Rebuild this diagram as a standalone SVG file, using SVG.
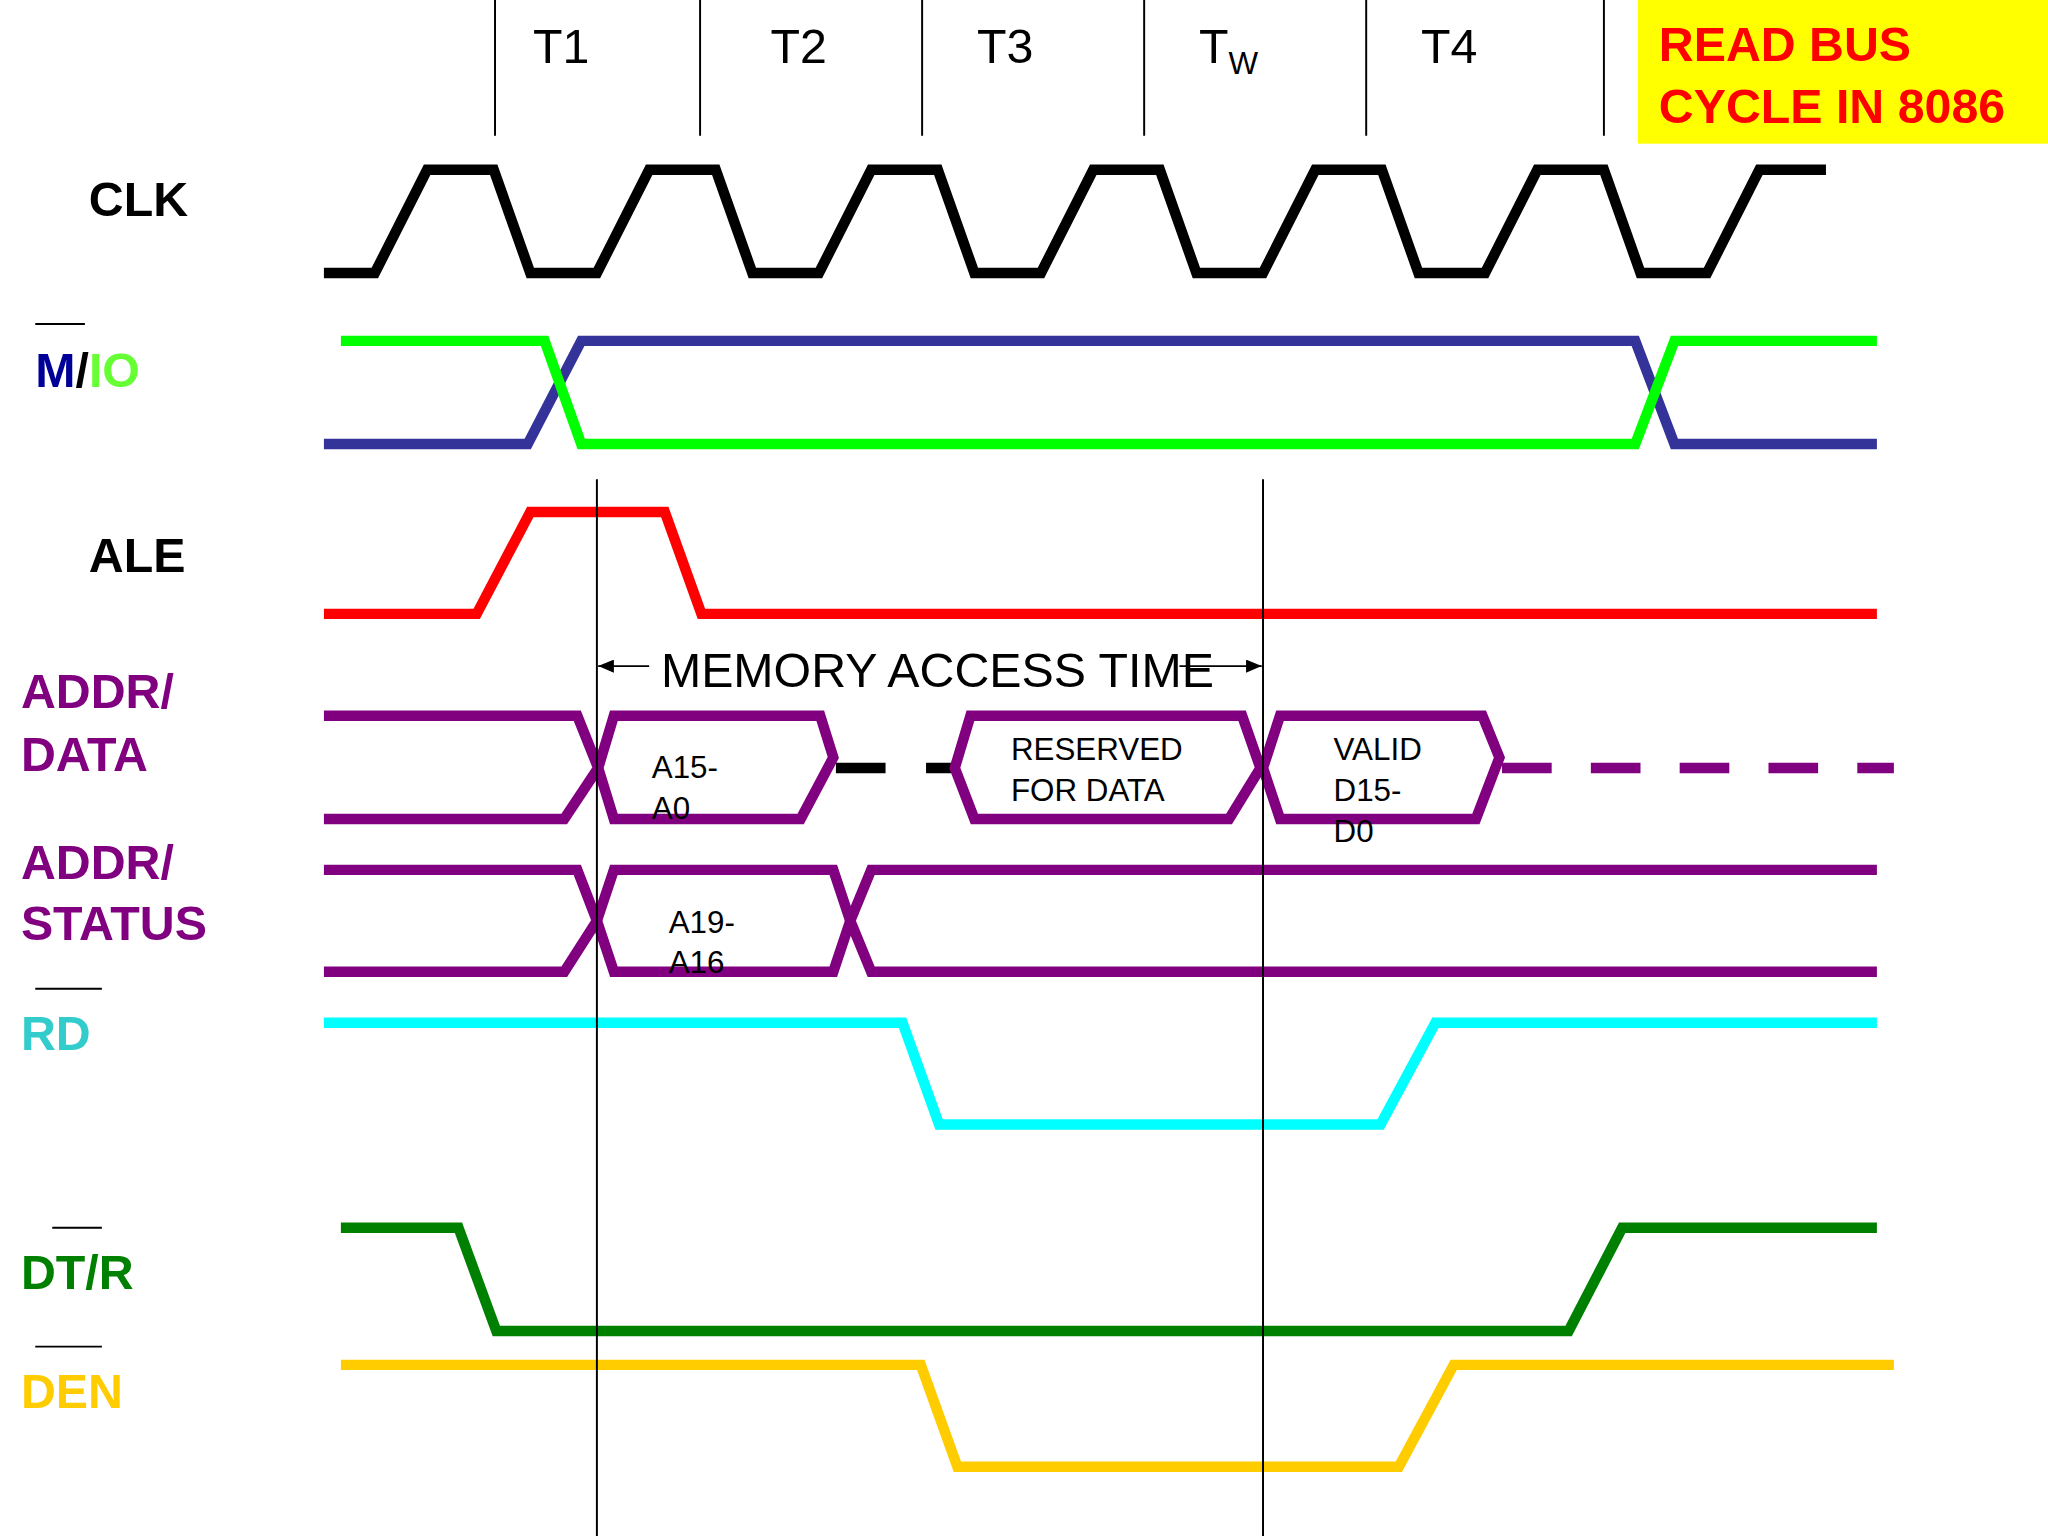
<svg xmlns="http://www.w3.org/2000/svg" width="2048" height="1536" viewBox="0 0 2048 1536">
<style>
.s{fill:none;stroke-width:8;stroke-linejoin:miter}
.t{fill:none;stroke:#000;stroke-width:1.5}
.lab{font-family:"Liberation Sans",Arial,sans-serif;font-weight:bold;font-size:37px}
.tx{font-family:"Liberation Sans",Arial,sans-serif;font-size:24px;fill:#000}
.hd{font-family:"Liberation Sans",Arial,sans-serif;font-size:37px;fill:#000}
</style>
<defs>
<marker id="ah" markerWidth="12" markerHeight="10" refX="12" refY="5" orient="auto" markerUnits="userSpaceOnUse"><path d="M0,0 L12,5 L0,10 Z" fill="#000"/></marker>
</defs>
<rect width="2048" height="1536" fill="#fff"/>
<g transform="scale(1.30612)">
<g id="header">
<path class="t" d="M379,0V104M536,0V104M706,0V104M876,0V104M1046,0V104M1228,0V104"/>
<text class="hd" x="408" y="48">T1</text>
<text class="hd" x="590" y="48">T2</text>
<text class="hd" x="748" y="48">T3</text>
<text class="hd" x="918" y="48">T<tspan font-size="24" dy="9">W</tspan></text>
<text class="hd" x="1088" y="48">T4</text>
<rect x="1254" y="0" width="314" height="110" fill="#ffff00"/>
<text class="lab" x="1270" y="47" fill="#ff0000">READ BUS</text>
<text class="lab" x="1270" y="94" fill="#ff0000">CYCLE IN 8086</text>
</g>
<g id="labels">
<text class="lab" x="68" y="165" fill="#000">CLK</text>
<line x1="27" y1="248" x2="65" y2="248" stroke="#000" stroke-width="1.5"/>
<text class="lab" x="27" y="296"><tspan fill="#000099">M</tspan><tspan fill="#000">/</tspan><tspan fill="#66ff33">IO</tspan></text>
<text class="lab" x="68" y="438" fill="#000">ALE</text>
<text class="lab" x="16" y="542" fill="#800080">ADDR/</text>
<text class="lab" x="16" y="590" fill="#800080">DATA</text>
<text class="lab" x="16" y="673" fill="#800080">ADDR/</text>
<text class="lab" x="16" y="720" fill="#800080">STATUS</text>
<line x1="27" y1="757" x2="78" y2="757" stroke="#000" stroke-width="1.5"/>
<text class="lab" x="16" y="804" fill="#33cccc">RD</text>
<line x1="40" y1="940" x2="78" y2="940" stroke="#000" stroke-width="1.5"/>
<text class="lab" x="16" y="987" fill="#008000">DT/R</text>
<line x1="27" y1="1031" x2="78" y2="1031" stroke="#000" stroke-width="1.5"/>
<text class="lab" x="16" y="1078" fill="#ffcc00">DEN</text>
</g>
<g id="signals">
<path class="s" stroke="#000" d="M248,209 L287,209 L327,130 L378,130 L406,209 L457,209 L497,130 L548,130 L576,209 L627,209 L667,130 L718,130 L746,209 L797,209 L837,130 L888,130 L916,209 L967,209 L1007,130 L1058,130 L1086,209 L1137,209 L1177,130 L1228,130 L1256,209 L1307,209 L1347,130 L1398,130"/>
<path class="s" stroke="#333399" d="M248,340 L404,340 L445,261 L1252,261 L1282,340 L1437,340"/>
<path class="s" stroke="#00ff00" d="M261,261 L417,261 L445,340 L1252,340 L1282,261 L1437,261"/>
<path class="s" stroke="#ff0000" d="M248,470 L365,470 L406,392 L509,392 L537,470 L1437,470"/>
<path class="s" stroke="#800080" d="M248,548 L442,548 L458,588 L470,627 L613,627 L638,580 L628,548 L470,548 L458,588 L432,627 L248,627"/>
<path class="s" stroke="#000" d="M640,588H678M709,588H729"/>
<path class="s" stroke="#800080" d="M743,548 L951,548 L965,588 L941,627 L746,627 L731,588 Z"/>
<path class="s" stroke="#800080" d="M980,548 L1135,548 L1148,580 L1130,627 L980,627 L967,588 Z"/>
<path class="s" stroke="#800080" stroke-dasharray="38,30" d="M1150,588H1450"/>
<path class="s" stroke="#800080" d="M248,666 L442,666 L457,705 L470,744 L638,744 L651,705 L667,666 L1437,666"/>
<path class="s" stroke="#800080" d="M248,744 L432,744 L457,705 L470,666 L638,666 L651,705 L667,744 L1437,744"/>
<path class="s" stroke="#00ffff" d="M248,783 L691,783 L719,861 L1057,861 L1099,783 L1437,783"/>
<path class="s" stroke="#008000" d="M261,940 L351,940 L380,1019 L1201,1019 L1242,940 L1437,940"/>
<path class="s" stroke="#ffcc00" d="M261,1045 L705,1045 L733,1123 L1071,1123 L1113,1045 L1450,1045"/>
</g>
<g id="annotations">
<path class="t" d="M457,367V1176M967,367V1176"/>
<line x1="497" y1="510" x2="458" y2="510" stroke="#000" stroke-width="1.5" marker-end="url(#ah)"/>
<line x1="903" y1="510" x2="966" y2="510" stroke="#000" stroke-width="1.5" marker-end="url(#ah)"/>
<text class="hd" x="506" y="526" font-size="33">MEMORY ACCESS TIME</text>
<text class="tx" x="499" y="596">A15-</text>
<text class="tx" x="499" y="627">A0</text>
<text class="tx" x="774" y="582">RESERVED</text>
<text class="tx" x="774" y="613">FOR DATA</text>
<text class="tx" x="1021" y="582">VALID</text>
<text class="tx" x="1021" y="613">D15-</text>
<text class="tx" x="1021" y="645">D0</text>
<text class="tx" x="512" y="714">A19-</text>
<text class="tx" x="512" y="745">A16</text>
</g>
</g>
</svg>
